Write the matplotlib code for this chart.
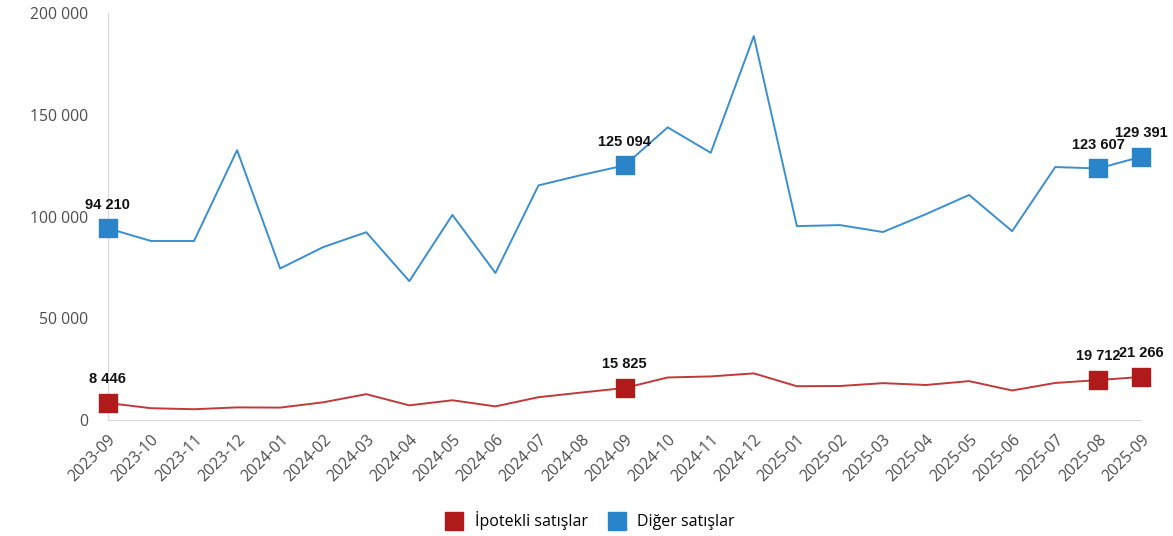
import numpy as np
import matplotlib.pyplot as plt
from matplotlib.ticker import FuncFormatter
from matplotlib.lines import Line2D

months = ["2023-09", "2023-10", "2023-11", "2023-12", "2024-01", "2024-02", "2024-03",
          "2024-04", "2024-05", "2024-06", "2024-07", "2024-08", "2024-09", "2024-10",
          "2024-11", "2024-12", "2025-01", "2025-02", "2025-03", "2025-04", "2025-05",
          "2025-06", "2025-07", "2025-08", "2025-09"]
ipotekli = [8446, 5900, 5400, 6300, 6200, 8800, 12800, 7300, 9800, 6800, 11300, 13600,
            15825, 21000, 21500, 23000, 16700, 16800, 18200, 17300, 19200, 14600, 18300,
            19712, 21266]
diger = [94210, 88000, 88000, 132600, 74500, 85000, 92300, 68300, 100800, 72300, 115300,
         120400, 125094, 143800, 131300, 188600, 95300, 95800, 92400, 101200, 110600, 92800,
         124300, 123607, 129391]
labeled = [0, 12, 23, 24]

red = "#B01A1A"
blue = "#2A84C9"

fig = plt.figure(figsize=(11.73, 5.36), dpi=100)
ax = fig.add_axes([0.092, 0.216, 0.881, 0.76])
x = np.arange(len(months))

ax.plot(x, ipotekli, color="#C0393B", lw=1.4, zorder=2)
ax.plot(x, diger, color="#3A8FD0", lw=1.4, zorder=2)
ax.scatter(x[labeled], np.array(ipotekli)[labeled], marker="s", s=175, color=red,
           zorder=3, clip_on=False)
ax.scatter(x[labeled], np.array(diger)[labeled], marker="s", s=175, color=blue,
           zorder=3, clip_on=False)

for i in labeled:
    for vals in (ipotekli, diger):
        ax.annotate(f"{vals[i]:,}".replace(",", " "), (x[i], vals[i]), xytext=(0, 12),
                    textcoords="offset points", ha="center", va="bottom",
                    fontsize=10.5, fontweight="bold", family="Liberation Sans", color="#111111")

ax.set_xlim(0, len(months) - 1)
ax.set_ylim(0, 200000)
ax.set_yticks(np.arange(0, 200001, 50000))
ax.yaxis.set_major_formatter(FuncFormatter(lambda v, p: f"{int(v):,}".replace(",", " ")))
ax.set_xticks(x)
ax.set_xticklabels(months, rotation=45, ha="right", rotation_mode="anchor")
ax.tick_params(length=0, labelsize=11.3, colors="#4D4D4D")
ax.tick_params(axis="x", pad=8)
ax.tick_params(axis="y", pad=14)
for t in ax.get_xticklabels() + ax.get_yticklabels():
    t.set_family("Open Sans")
for s in ["top", "right"]:
    ax.spines[s].set_visible(False)
ax.spines["left"].set_color("#D9D9D9")
ax.spines["bottom"].set_color("#D9D9D9")

handles = [Line2D([], [], marker="s", ls="", color=red, markersize=13),
           Line2D([], [], marker="s", ls="", color=blue, markersize=13)]
fig.legend(handles, ["İpotekli satışlar", "Diğer satışlar"], loc="center",
           bbox_to_anchor=(0.5, 0.028), ncol=2, frameon=False, handletextpad=0.3,
           columnspacing=0.8, prop={"family": "Open Sans", "size": 11.5})

plt.savefig("out.png")
